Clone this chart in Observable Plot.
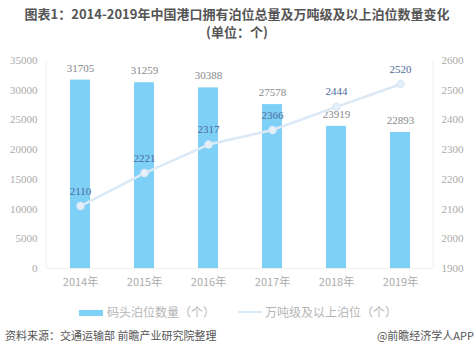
<!DOCTYPE html>
<html><head><meta charset="utf-8">
<script src="https://cdn.jsdelivr.net/npm/d3@7"></script>
<script src="https://cdn.jsdelivr.net/npm/@observablehq/plot@0.6"></script>
<style>
body{margin:0;background:#fff;width:474px;height:352px;overflow:hidden;font-family:"Noto Sans CJK SC","Noto Sans",sans-serif;}
.title{position:absolute;left:0;width:474px;text-align:center;font-size:13px;font-weight:bold;color:#555;line-height:13px;height:13px;}
#chart{position:absolute;left:0;top:42px;}
#legend{position:absolute;top:303px;left:0;width:474px;font-size:12px;color:#b5b5b5;}
.sw{position:absolute;}
#footer{position:absolute;top:327px;left:5px;width:464px;font-size:11px;color:#555;}
</style></head><body>
<div class="title" style="top:7px">图表1：2014-2019年中国港口拥有泊位总量及万吨级及以上泊位数量变化</div>
<div class="title" style="top:25px">(单位：个)</div>
<div id="chart"></div>
<div id="legend">
  <div class="sw" style="left:79px;top:7px;width:24px;height:6px;background:#7fd0f6"></div>
  <div class="sw" style="left:107px;top:0px;">码头泊位数量（个）</div>
  <div class="sw" style="left:238px;top:8px;width:24px;height:2px;background:#dbe9f6"></div>
  <div class="sw" style="left:265px;top:0px;">万吨级及以上泊位（个）</div>
</div>
<div id="footer"><span>资料来源：交通运输部 前瞻产业研究院整理</span><span style="position:absolute;right:-5px;">@前瞻经济学人APP</span></div>
<script>
const years = ["2014年","2015年","2016年","2017年","2018年","2019年"];
const berths = [31705,31259,30388,27578,23919,22893];
const bigBerths = [2110,2221,2317,2366,2444,2520];
const leftTicks = [0,5000,10000,15000,20000,25000,30000,35000];
const rightTicks = [1900,2000,2100,2200,2300,2400,2500,2600];

const rMin = 1900, rMax = 2600, lMax = 35000;
const toLeft = v => (v - rMin) / (rMax - rMin) * lMax;
const data = years.map((y,i)=>({year:y, bar:berths[i], line:bigBerths[i], lineY:toLeft(bigBerths[i])}));

const font = "'Liberation Serif','DejaVu Serif',serif";
const chart = Plot.plot({
  width:474, height:255,
  marginLeft:46, marginRight:41, marginTop:18, marginBottom:29,
  style:{fontFamily:font, fontSize:"11px", color:"#aaa", background:"transparent"},
  x:{domain:years, paddingInner:0.69, paddingOuter:0.345, label:null},
  y:{domain:[0,lMax], label:null},
  marks:[
    Plot.ruleY([0],{stroke:"#eee"}),
    Plot.axisX({tickSize:0, tickPadding:10, fill:"#aaa", fontFamily:"'Noto Sans CJK SC',serif", fontSize:11}),
    Plot.axisY(leftTicks,{tickSize:0, tickPadding:9, fill:"#aaa", label:null, tickFormat:d=>String(d)}),
    Plot.axisY(rightTicks.map(toLeft),{anchor:"right", tickSize:0, tickPadding:8, fill:"#aaa", label:null, tickFormat:d=>String(Math.round(d/lMax*(rMax-rMin)+rMin))}),
    Plot.barY(data,{x:"year", y:"bar", fill:"#7fd0f6"}),
    Plot.text(data,{x:"year", y:"bar", text:d=>String(d.bar), dy:-12, fill:"#888", fontSize:11}),
    Plot.line(data,{x:"year", y:"lineY", stroke:"#dbe9f6", strokeWidth:2.5}),
    Plot.dot(data,{x:"year", y:"lineY", r:3.5, fill:"#e6f0f9", stroke:"#dbe9f6"}),
    Plot.text(data,{x:"year", y:"lineY", text:d=>String(d.line), dy:-15, fill:"#4a6a9a", fontSize:11})
  ]
});
const svg = d3.select(chart);
svg.append("line").attr("x1",46).attr("x2",46).attr("y1",18).attr("y2",226).attr("stroke","#f0f0f0");
svg.append("line").attr("x1",433).attr("x2",433).attr("y1",18).attr("y2",226).attr("stroke","#f0f0f0");
document.getElementById("chart").appendChild(chart);
</script>
</body></html>
